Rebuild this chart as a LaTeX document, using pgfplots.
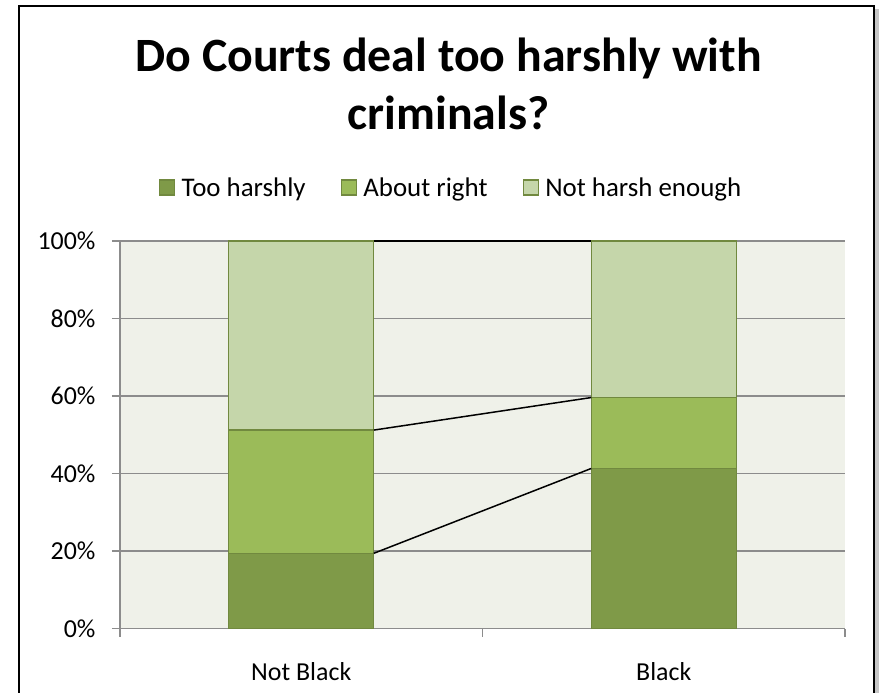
\documentclass[border=0pt]{standalone}
\usepackage{pgfplots}
\pgfplotsset{compat=1.18}
\usepackage{fontspec}
\setmainfont{Carlito}
\definecolor{cDark}{HTML}{7F9A48}
\definecolor{cMid}{HTML}{9BBB59}
\definecolor{cLight}{HTML}{C5D6AA}
\definecolor{cEdge}{HTML}{71893F}
\definecolor{cBg}{HTML}{EFF1E9}
\definecolor{cGrid}{HTML}{8C8C8C}
\begin{document}
\begin{tikzpicture}
\useasboundingbox (0bp,0bp) rectangle (881bp,693bp);
\fill[gray!45] (874bp,-5bp) rectangle (879bp,684bp);
\draw[line width=2.5bp] (19bp,-5bp) rectangle (874bp,687bp);
\node[anchor=base, font=\fontsize{48}{58}\selectfont\bfseries] at (448.5bp,621bp) {Do Courts deal too harshly with};
\node[anchor=base, font=\fontsize{48}{58}\selectfont\bfseries] at (448.5bp,563bp) {criminals?};
\begin{axis}[
  at={(120bp,64.5bp)}, anchor=south west,
  scale only axis, width=725bp, height=387.5bp,
  ybar stacked, bar width=0.4,
  xmin=-0.5, xmax=1.5, ymin=0, ymax=100,
  axis x line*=bottom, axis y line*=left,
  axis line style={cGrid, line width=1.5bp, -},
  xtick={0,1}, xticklabels={Not Black, Black},
  major x tick style={draw=none},
  minor xtick={-0.5,0.5,1.5},
  ytick={0,20,...,100},
  yticklabel={\pgfmathprintnumber{\tick}\%},
  tick align=outside, major tick length=8bp, minor tick length=8bp,
  tick style={cGrid, line width=1.5bp},
  ymajorgrids, grid style={cGrid, line width=1.5bp},
  axis background/.style={fill=cBg},
  ticklabel style={font=\fontsize{26}{31}\selectfont, text=black},
  yticklabel style={xshift=-13bp},
  xticklabel style={yshift=-22bp},
  /pgf/number format/assume math mode=true,
  legend columns=3,
  legend style={draw=none, fill=none, at={(0.4566,1.138)}, anchor=center,
    font=\fontsize{27}{32}\selectfont,
    /tikz/every even column/.append style={column sep=33bp}},
  legend image code/.code={\draw[#1, line width=1.2bp] (0bp,-7.5bp) rectangle (15bp,7.5bp); \path (19.5bp,0bp);},
]
\addplot[fill=cDark, draw=cEdge, line width=1.2bp] coordinates {(0,19.4) (1,41.3)};
\addplot[fill=cMid, draw=cEdge, line width=1.2bp] coordinates {(0,31.8) (1,18.3)};
\addplot[fill=cLight, draw=cEdge, line width=1.2bp] coordinates {(0,48.8) (1,40.4)};
\legend{Too harshly, About right, Not harsh enough}
\end{axis}
\begin{axis}[
  at={(120bp,64.5bp)}, anchor=south west,
  scale only axis, width=725bp, height=387.5bp,
  xmin=-0.5, xmax=1.5, ymin=0, ymax=100, hide axis]
\addplot[black, line width=1.5bp] coordinates {(0.2,19.4) (0.8,41.3)};
\addplot[black, line width=1.5bp] coordinates {(0.2,51.2) (0.8,59.6)};
\addplot[black, line width=1.5bp] coordinates {(0.2,100) (0.8,100)};
\end{axis}
\end{tikzpicture}
\end{document}
